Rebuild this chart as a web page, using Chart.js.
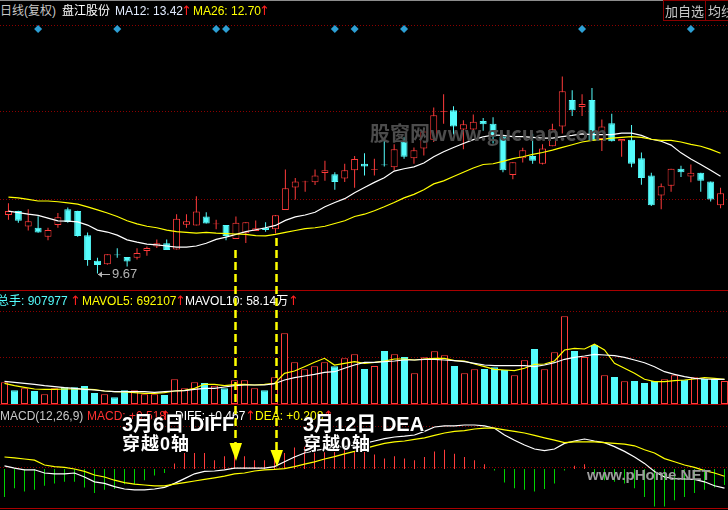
<!DOCTYPE html>
<html>
<head>
<meta charset="utf-8">
<script src="https://cdn.jsdelivr.net/npm/chart.js@4.4.1/dist/chart.umd.min.js"></script>
<style>
html, body { margin: 0; padding: 0; background: #000; overflow: hidden; }
#wrap { position: relative; width: 728px; height: 510px; background: #000; overflow: hidden;
  font-family: "Liberation Sans", Arial, "Noto Sans CJK SC", sans-serif; font-size: 12px; }
canvas { position: absolute; left: 0; }
.t { position: absolute; white-space: nowrap; line-height: 1; }
.up { color: #ff2020; font-family: "DejaVu Sans", sans-serif; font-size: 13px; margin-top: -1px; }
.big { font-family: "Liberation Sans", "Noto Sans CJK SC", sans-serif; font-weight: bold; color: #fff;
  text-shadow: 1px 1px 0 #000, -1px 0 0 #000; }
.rule { position: absolute; left: 0; width: 728px; height: 1px; background: #a80000; }
.btn { position: absolute; top: 0; height: 21px; box-sizing: border-box; border: 1px solid #8a0000;
  color: #c8c8c8; font-size: 13px; line-height: 19px; white-space: nowrap; overflow: hidden;
  text-align: center; font-family: "Noto Sans CJK SC", sans-serif; }
</style>
</head>
<body>
<div id="wrap">
  <div style="position:absolute;left:0;top:0;width:728px;height:1px;background:#8c8c8c"></div>

  <canvas id="mainChart" width="728" height="270" style="top:20px"></canvas>
  <canvas id="volChart" width="728" height="113" style="top:291px"></canvas>
  <canvas id="macdChart" width="728" height="103" style="top:405px"></canvas>

  <div class="rule" style="top:290px"></div>
  <div class="rule" style="top:404px"></div>
  <div class="rule" style="top:508px"></div>

  <!-- header row -->
  <div class="t" style="left:0;top:5px;color:#c8c8c8">日线(复权)</div>
  <div class="t" style="left:62px;top:5px;color:#fff">盘江股份</div>
  <div class="t" style="left:115px;top:5px;color:#e2ecff">MA12: 13.42</div>
  <div class="t up" style="left:181px;top:5px">↑</div>
  <div class="t" style="left:193px;top:5px;color:#ffff00">MA26: 12.70</div>
  <div class="t up" style="left:259px;top:5px">↑</div>
  <div class="btn" style="left:663px;width:43px">加自选</div>
  <div class="btn" style="left:705px;width:40px;text-align:left;padding-left:2px">均线</div>

  <!-- volume header -->
  <div class="t" style="left:-3px;top:295px;color:#54fcfc">总手: 907977</div>
  <div class="t up" style="left:70px;top:295px">↑</div>
  <div class="t" style="left:82px;top:295px;color:#ffff00">MAVOL5: 692107</div>
  <div class="t up" style="left:175px;top:295px">↑</div>
  <div class="t" style="left:185px;top:295px;color:#fff">MAVOL10: 58.14万</div>
  <div class="t up" style="left:288px;top:295px">↑</div>

  <!-- macd header -->
  <div class="t" style="left:0;top:410px;color:#c8c8c8">MACD(12,26,9)</div>
  <div class="t" style="left:87px;top:410px;color:#ff3030">MACD: +0.518</div>
  <div class="t up" style="left:160px;top:410px">↑</div>
  <div class="t" style="left:175px;top:410px;color:#fff">DIFF: +0.467</div>
  <div class="t up" style="left:245px;top:410px">↑</div>
  <div class="t" style="left:255px;top:410px;color:#ffff00">DEA: +0.208</div>
  <div class="t up" style="left:323px;top:410px">↑</div>

  <!-- watermarks -->
  <div class="t" style="left:370px;top:123px;font-size:20px;font-weight:bold;color:#4c4c4c;font-family:'Noto Sans CJK SC','Liberation Sans',sans-serif">股窗网www.gucuan.com</div>
  <div class="t" style="left:587px;top:467px;font-size:15px;font-weight:bold;color:#9c9c9c">www.pHome.NET</div>

  <!-- annotation arrows -->
  <svg width="728" height="510" style="position:absolute;left:0;top:0">
    <line x1="235.5" y1="250" x2="235.5" y2="446" stroke="#ffff00" stroke-width="2.5" stroke-dasharray="8 4"/>
    <polygon points="229.5,443 242,443 236,461" fill="#ffff00"/>
    <line x1="276.5" y1="238" x2="276.5" y2="452" stroke="#ffff00" stroke-width="2.5" stroke-dasharray="8 4"/>
    <polygon points="270.5,450 283,450 277,467" fill="#ffff00"/>
  </svg>

  <div class="t big" style="left:122px;top:414px;font-size:20px">3月6日 DIFF</div>
  <div class="t big" style="left:122px;top:435px;font-size:18px;letter-spacing:1px">穿越0轴</div>
  <div class="t big" style="left:303px;top:414px;font-size:20px">3月12日 DEA</div>
  <div class="t big" style="left:303px;top:435px;font-size:18px;letter-spacing:1px">穿越0轴</div>
</div>

<script>
// daily candles (price, yuan)
const opens = [11.18, 11.28, 10.88, 10.85, 10.62, 10.92, 11.33, 11.28, 10.66, 10.00,
  9.91, 10.16, 10.10, 10.08, 10.25, 10.37, 10.45, 10.29, 10.93, 10.91,
  11.14, 10.94, 10.92, 10.56, 10.71, 10.77, 10.85, 10.81, 11.31, 11.89,
  12.02, 12.02, 12.26, 12.23, 12.12, 12.33, 12.50, 12.34, 12.48, 12.41,
  13.08, 12.64, 12.89, 13.12, 13.84, 13.88, 13.38, 13.38, 13.60, 13.53,
  13.20, 12.21, 12.64, 12.70, 12.50, 12.95, 13.46, 14.14, 13.96, 14.14,
  13.14, 13.54, 13.08, 13.12, 12.64, 12.20, 11.68, 11.93, 12.37, 12.17,
  12.27, 12.04, 11.43];
const closes = [11.28, 11.03, 11.02, 10.73, 10.79, 11.12, 11.00, 10.64, 10.02, 9.89,
  10.17, 10.14, 9.98, 10.20, 10.33, 10.45, 10.28, 11.08, 11.02, 11.27,
  10.96, 10.96, 10.64, 10.98, 10.99, 10.84, 10.79, 11.17, 11.87, 12.04,
  12.04, 12.20, 12.33, 12.03, 12.33, 12.62, 12.43, 12.36, 12.46, 12.87,
  12.68, 12.85, 13.33, 13.75, 13.86, 13.46, 13.52, 13.58, 13.52, 13.20,
  12.33, 12.54, 12.85, 12.58, 12.89, 13.39, 14.37, 13.88, 14.04, 13.10,
  13.46, 13.08, 13.14, 12.50, 12.13, 11.43, 11.92, 12.37, 12.28, 12.27,
  12.06, 11.58, 11.74];
const highs = [11.48, 11.29, 11.33, 11.15, 10.85, 11.23, 11.37, 11.29, 10.73, 10.08,
  10.17, 10.32, 10.10, 10.32, 10.37, 10.55, 10.55, 11.20, 11.20, 11.66,
  11.25, 11.06, 10.92, 11.14, 10.99, 11.04, 10.99, 11.18, 12.35, 12.13,
  12.06, 12.35, 12.58, 12.28, 12.50, 12.70, 12.77, 12.63, 13.14, 13.00,
  13.18, 12.92, 13.33, 13.95, 14.29, 13.98, 13.62, 13.77, 13.68, 13.70,
  13.20, 12.54, 12.91, 13.27, 13.00, 13.53, 14.75, 14.39, 14.29, 14.45,
  13.64, 13.79, 13.14, 13.50, 12.79, 12.27, 11.99, 12.37, 12.45, 12.48,
  12.27, 12.04, 11.88];
const lows = [11.06, 10.98, 10.78, 10.72, 10.53, 10.85, 10.98, 10.62, 9.87, 9.67,
  9.90, 10.08, 9.85, 10.03, 10.13, 10.33, 10.28, 10.29, 10.85, 10.91,
  10.96, 10.81, 10.53, 10.56, 10.46, 10.77, 10.75, 10.70, 11.31, 11.58,
  11.78, 11.95, 12.06, 11.83, 12.03, 11.88, 12.20, 12.20, 12.43, 12.33,
  12.63, 12.50, 12.71, 13.06, 13.53, 13.25, 12.87, 13.33, 13.35, 13.02,
  12.28, 12.10, 12.53, 12.50, 12.48, 12.95, 13.28, 13.73, 13.73, 13.10,
  12.83, 13.07, 12.68, 12.41, 11.96, 11.41, 11.33, 11.78, 12.16, 12.02,
  11.78, 11.53, 11.35];
const ma12 = [11.28, 11.24, 11.20, 11.17, 11.10, 11.03, 11.02, 11.00, 10.92, 10.79,
  10.74, 10.66, 10.54, 10.48, 10.43, 10.41, 10.38, 10.35, 10.35, 10.38,
  10.45, 10.55, 10.61, 10.68, 10.75, 10.80, 10.85, 10.91, 11.04, 11.13,
  11.18, 11.25, 11.39, 11.50, 11.60, 11.75, 11.89, 12.02, 12.14, 12.31,
  12.37, 12.42, 12.52, 12.68, 12.81, 12.92, 13.02, 13.12, 13.19, 13.24,
  13.23, 13.20, 13.20, 13.18, 13.16, 13.16, 13.20, 13.23, 13.27, 13.25,
  13.25, 13.25, 13.29, 13.29, 13.23, 13.13, 13.08, 12.98, 12.78, 12.62,
  12.48, 12.33, 12.18];
const ma26 = [11.64, 11.62, 11.58, 11.54, 11.54, 11.52, 11.49, 11.46, 11.39, 11.31,
  11.23, 11.14, 11.03, 10.95, 10.89, 10.85, 10.79, 10.75, 10.73, 10.71,
  10.73, 10.71, 10.70, 10.69, 10.68, 10.65, 10.64, 10.68, 10.73, 10.78,
  10.83, 10.85, 10.89, 10.96, 11.03, 11.14, 11.20, 11.29, 11.39, 11.50,
  11.62, 11.71, 11.83, 11.98, 12.06, 12.17, 12.28, 12.39, 12.48, 12.50,
  12.56, 12.63, 12.68, 12.74, 12.79, 12.85, 12.92, 12.99, 13.06, 13.10,
  13.13, 13.16, 13.18, 13.20, 13.18, 13.13, 13.10, 13.10, 13.06, 13.00,
  12.95, 12.87, 12.77];
const signalDays = [3, 11, 21, 22, 33, 35, 40, 58, 69];
const signalRow = 15.97;
const priceGrid = [16.075, 13.85, 11.6];

// volume (手)
const volumes = [434000, 274000, 314000, 260000, 194000, 314000, 334000, 334000, 360000, 220000,
  194000, 134000, 274000, 274000, 194000, 194000, 180000, 494000, 314000, 434000,
  420000, 366000, 314000, 474000, 474000, 314000, 274000, 534000, 1414000, 834000,
  694000, 754000, 834000, 754000, 914000, 994000, 700000, 760000, 1060000, 994000,
  940000, 614000, 934000, 1054000, 974000, 760000, 614000, 694000, 700000, 734000,
  680000, 574000, 874000, 1100000, 694000, 1034000, 1754000, 1060000, 940000, 1180000,
  574000, 540000, 454000, 460000, 420000, 460000, 494000, 574000, 486000, 534000,
  500000, 500000, 460000];
const mavol5 = [414000, 366000, 334000, 300000, 294000, 294000, 300000, 300000, 300000, 286000,
  260000, 246000, 240000, 226000, 214000, 214000, 226000, 260000, 274000, 314000,
  394000, 394000, 366000, 386000, 394000, 380000, 394000, 414000, 614000, 660000,
  746000, 834000, 914000, 780000, 814000, 846000, 814000, 834000, 860000, 900000,
  900000, 880000, 900000, 914000, 914000, 866000, 860000, 800000, 746000, 694000,
  680000, 666000, 714000, 794000, 800000, 860000, 1080000, 1114000, 1100000, 1194000,
  1080000, 814000, 714000, 614000, 494000, 446000, 446000, 466000, 480000, 500000,
  526000, 514000, 494000];
const mavol10 = [454000, 434000, 414000, 394000, 366000, 346000, 326000, 314000, 294000, 280000,
  260000, 246000, 246000, 246000, 246000, 234000, 246000, 260000, 266000, 294000,
  314000, 314000, 340000, 366000, 380000, 380000, 380000, 406000, 480000, 526000,
  560000, 594000, 634000, 646000, 714000, 780000, 834000, 834000, 846000, 860000,
  880000, 880000, 894000, 894000, 880000, 866000, 846000, 814000, 780000, 766000,
  766000, 766000, 766000, 746000, 780000, 826000, 894000, 934000, 960000, 994000,
  980000, 966000, 934000, 880000, 826000, 746000, 646000, 594000, 546000, 514000,
  500000, 494000, 494000];
const volGrid = [940000, 1860000];

// MACD(12,26,9)
const macdBars = [-0.35, -0.24, -0.28, -0.26, -0.21, -0.18, -0.16, -0.16, -0.23, -0.30,
  -0.26, -0.25, -0.19, -0.19, -0.14, -0.08, -0.05, 0.07, 0.20, 0.20,
  0.20, 0.11, 0.16, 0.20, 0.16, 0.11, 0.11, 0.12, 0.20, 0.27,
  0.28, 0.22, 0.27, 0.25, 0.25, 0.22, 0.22, 0.18, 0.13, 0.16,
  0.13, 0.11, 0.15, 0.22, 0.24, 0.19, 0.15, 0.11, 0.06, -0.02,
  -0.17, -0.24, -0.26, -0.28, -0.25, -0.18, -0.02, 0.04, 0.06, -0.06,
  -0.14, -0.16, -0.18, -0.24, -0.35, -0.47, -0.47, -0.39, -0.35, -0.30,
  -0.26, -0.23, -0.20];
const diffLine = [0.04, 0.01, -0.01, -0.01, -0.05, -0.06, -0.06, -0.05, -0.10, -0.16,
  -0.18, -0.22, -0.25, -0.26, -0.26, -0.25, -0.23, -0.18, -0.12, -0.06,
  -0.03, -0.025, -0.01, 0.01, 0.01, 0.01, 0.01, 0.03, 0.09, 0.15,
  0.20, 0.23, 0.25, 0.275, 0.28, 0.30, 0.32, 0.35, 0.38, 0.40,
  0.41, 0.425, 0.47, 0.525, 0.54, 0.54, 0.55, 0.55, 0.54, 0.51,
  0.425, 0.36, 0.30, 0.25, 0.23, 0.25, 0.32, 0.35, 0.375, 0.35,
  0.33, 0.28, 0.22, 0.15, 0.07, -0.03, -0.10, -0.12, -0.125, -0.13,
  -0.16, -0.21, -0.24];
const deaLine = [0.15, 0.14, 0.125, 0.11, 0.05, 0.03, 0.02, 0.0, -0.03, -0.075,
  -0.10, -0.14, -0.17, -0.19, -0.20, -0.21, -0.21, -0.19, -0.17, -0.15,
  -0.13, -0.11, -0.09, -0.06, -0.05, -0.025, -0.01, -0.005, 0.005, 0.03,
  0.06, 0.09, 0.125, 0.155, 0.19, 0.22, 0.255, 0.29, 0.32, 0.34,
  0.35, 0.37, 0.39, 0.42, 0.45, 0.47, 0.48, 0.50, 0.51, 0.51,
  0.49, 0.47, 0.45, 0.42, 0.39, 0.36, 0.33, 0.34, 0.34, 0.34,
  0.33, 0.32, 0.31, 0.29, 0.24, 0.20, 0.13, 0.09, 0.05, 0.02,
  -0.02, -0.05, -0.09];
const macdGrid = [0.03, 0.54];

const RED = '#ff3b3b';
const CYAN = '#54fcfc';
const GREEN = '#00d400';

const isUp = opens.map((o, i) => closes[i] >= o);
const pts = arr => arr.map((v, i) => ({ x: i, y: v }));

// dotted dark red horizontal guide lines
const dotGrid = {
  id: 'dotGrid',
  beforeDatasetsDraw(chart) {
    const values = chart.options.plugins.dotGrid.values || [];
    const c = chart.ctx;
    c.save();
    c.strokeStyle = '#8c0000';
    c.lineWidth = 1;
    c.setLineDash([1, 2]);
    values.forEach(v => {
      const py = Math.round(chart.scales.y.getPixelForValue(v)) + 0.5;
      c.beginPath();
      c.moveTo(0, py);
      c.lineTo(chart.width, py);
      c.stroke();
    });
    c.restore();
  }
};

// arrow + value at the lowest low
const lowMark = {
  id: 'lowMark',
  afterDatasetsDraw(chart) {
    const low = Math.min(...lows);
    const i = lows.indexOf(low);
    const x = Math.round(chart.scales.x.getPixelForValue(i)) + 1;
    const y = Math.round(chart.scales.y.getPixelForValue(low)) + 0.5;
    const c = chart.ctx;
    c.save();
    c.strokeStyle = '#b4b4b4';
    c.fillStyle = '#b4b4b4';
    c.lineWidth = 1;
    c.beginPath();
    c.moveTo(x, y);
    c.lineTo(x + 12, y);
    c.stroke();
    c.beginPath();
    c.moveTo(x, y);
    c.lineTo(x + 4, y - 3);
    c.lineTo(x + 4, y + 3);
    c.closePath();
    c.fill();
    c.font = '13px "Liberation Sans", Arial, sans-serif';
    c.textBaseline = 'middle';
    c.fillText(low.toFixed(2), x + 14, y);
    c.restore();
  }
};

function baseOptions(ymin, ymax, grid) {
  return {
    responsive: false,
    animation: false,
    events: [],
    layout: { padding: 0 },
    plugins: {
      legend: { display: false },
      tooltip: { enabled: false },
      dotGrid: { values: grid }
    },
    scales: {
      x: { type: 'linear', min: -0.45, max: 72.35, offset: false, bounds: 'ticks', display: false },
      y: { min: ymin, max: ymax, display: false }
    }
  };
}

function lineSet(arr, color, width) {
  return {
    type: 'line',
    data: pts(arr),
    borderColor: color,
    borderWidth: width,
    pointRadius: 0,
    tension: 0,
    fill: false,
    order: 0
  };
}

// main price panel
new Chart(document.getElementById('mainChart'), {
  type: 'bar',
  data: {
    datasets: [
      {
        data: lows.map((l, i) => ({ x: i, y: [l, highs[i]] })),
        backgroundColor: isUp.map(u => u ? RED : CYAN),
        barThickness: 1,
        grouped: false,
        inflateAmount: 0,
        order: 3
      },
      {
        data: opens.map((o, i) => ({ x: i, y: [o, closes[i]] })),
        backgroundColor: isUp.map(u => u ? '#000' : CYAN),
        borderColor: isUp.map(u => u ? RED : CYAN),
        borderWidth: 1,
        borderSkipped: false,
        barThickness: 7,
        grouped: false,
        inflateAmount: 0,
        order: 2
      },
      lineSet(ma26, '#ffff00', 1.2),
      lineSet(ma12, '#ffffff', 1.2),
      {
        type: 'line',
        data: signalDays.map(d => ({ x: d, y: signalRow })),
        showLine: false,
        pointStyle: 'rectRot',
        pointRadius: 4,
        pointBackgroundColor: '#2d9fd4',
        pointBorderWidth: 0,
        order: 0
      }
    ]
  },
  options: baseOptions(9.35, 16.1, priceGrid),
  plugins: [dotGrid, lowMark]
});

// volume panel
new Chart(document.getElementById('volChart'), {
  type: 'bar',
  data: {
    datasets: [
      {
        data: pts(volumes),
        backgroundColor: isUp.map(u => u ? '#000' : CYAN),
        borderColor: isUp.map(u => u ? RED : CYAN),
        borderWidth: 1,
        borderSkipped: false,
        barThickness: 7,
        grouped: false,
        inflateAmount: 0,
        order: 2
      },
      lineSet(mavol10, '#ffffff', 1.2),
      lineSet(mavol5, '#ffff00', 1.2)
    ]
  },
  options: baseOptions(0, 2260000, volGrid),
  plugins: [dotGrid]
});

// MACD panel
new Chart(document.getElementById('macdChart'), {
  type: 'bar',
  data: {
    datasets: [
      {
        data: pts(macdBars),
        backgroundColor: macdBars.map(v => v >= 0 ? RED : GREEN),
        barThickness: 1,
        grouped: false,
        inflateAmount: 0,
        order: 2
      },
      lineSet(deaLine, '#ffff00', 1.2),
      lineSet(diffLine, '#ffffff', 1.2)
    ]
  },
  options: baseOptions(-0.4875, 0.8, macdGrid),
  plugins: [dotGrid]
});
</script>
</body>
</html>
